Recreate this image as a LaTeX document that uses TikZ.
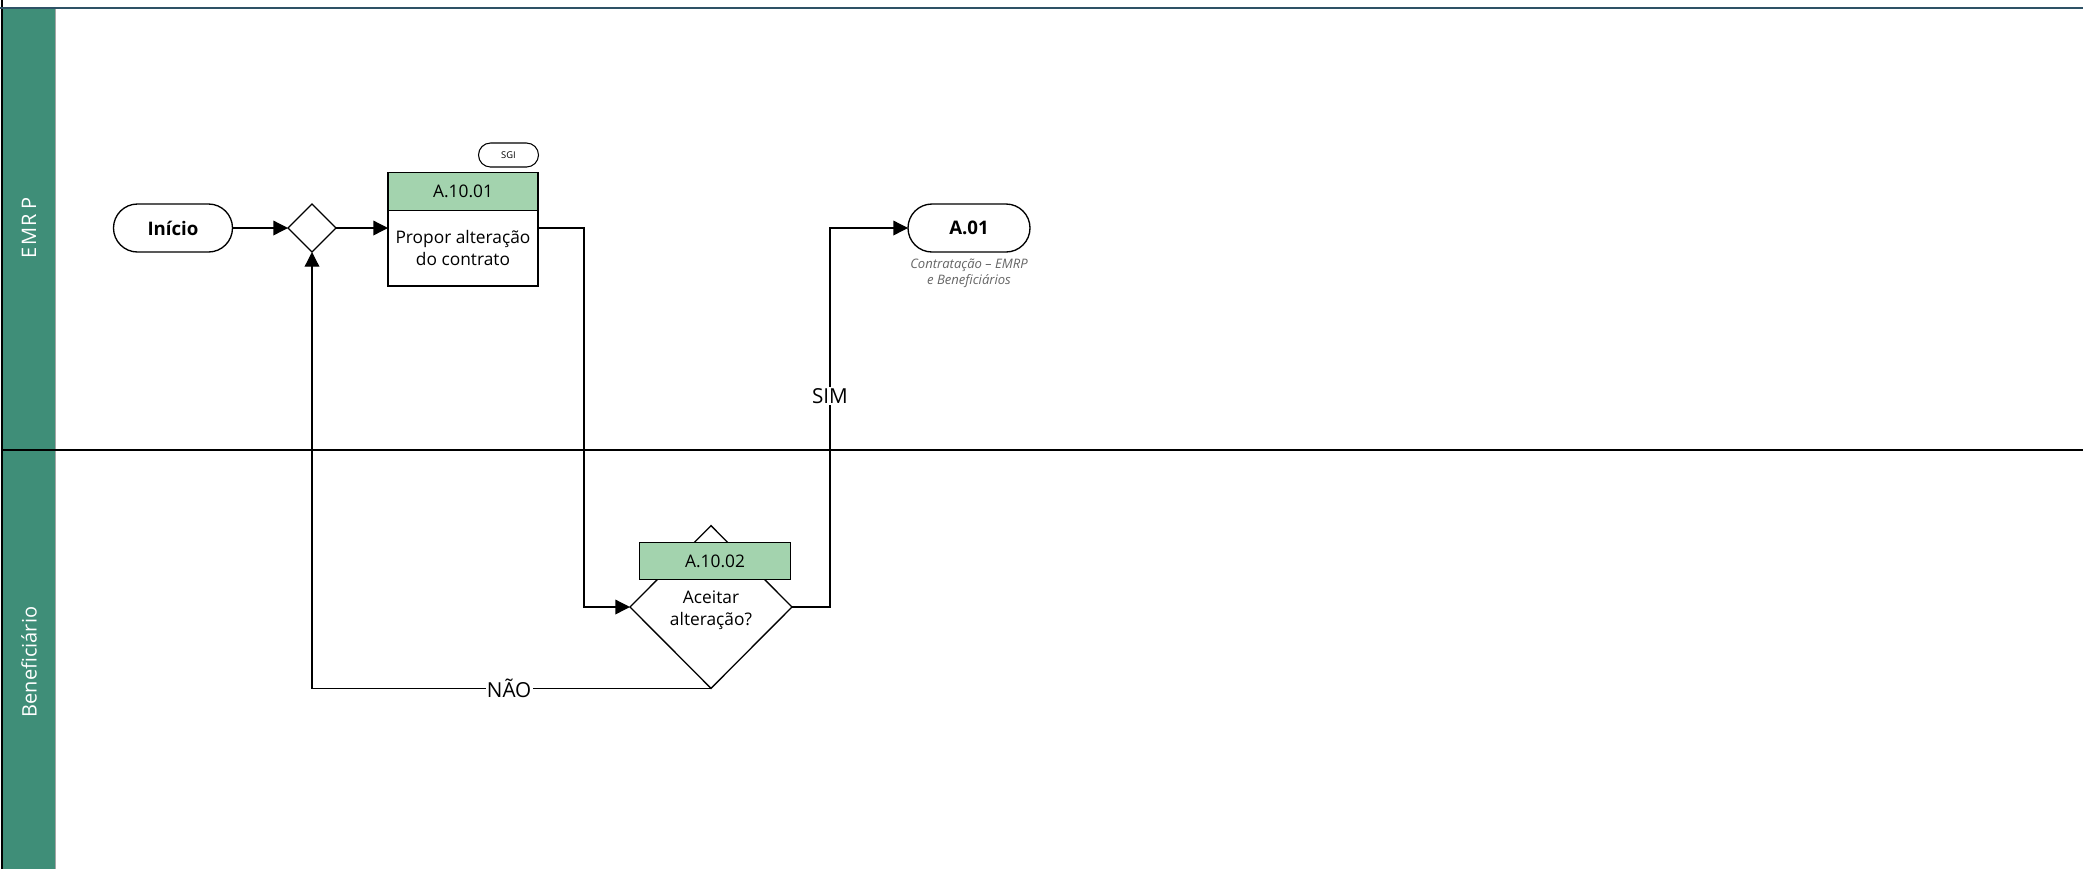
\documentclass[tikz,border=0pt]{standalone}
\usepackage{fontspec}
\setmainfont{Open Sans}
\usetikzlibrary{shapes.geometric,arrows.meta}
\definecolor{lanegreen}{HTML}{3F8E78}
\definecolor{hdrgreen}{HTML}{A3D3AE}
\definecolor{topline}{HTML}{2E5266}
\definecolor{capgray}{HTML}{666666}
\tikzset{
  base/.style={inner sep=0pt, outer sep=0pt, align=center, font=\fontsize{13}{16.5}\selectfont},
  terminal/.style={base, draw, line width=1pt, rounded corners=18pt, minimum width=#1, minimum height=36pt, font=\fontsize{14}{16}\selectfont\bfseries},
  gateway/.style={base, draw, line width=1pt, diamond, minimum width=36pt, minimum height=36pt},
  decision/.style={base, draw, line width=1pt, diamond, minimum width=121.5pt, minimum height=122pt},
  taskbox/.style={base, draw, line width=1pt, minimum width=112.5pt, minimum height=84.75pt},
  hdr/.style={base, draw, line width=1pt, fill=hdrgreen, minimum width=#1, minimum height=28.2pt},
  txt/.style={base},
  pill/.style={base, draw, line width=0.8pt, rounded corners=9pt, minimum width=45pt, minimum height=18pt, font=\fontsize{7}{8}\selectfont},
  caption/.style={base, text=capgray, font=\fontsize{9.8}{12}\selectfont\itshape},
  lanelabel/.style={base, text=white, rotate=90, font=\fontsize{15}{18}\selectfont},
  flow/.style={draw, line width=1pt, -{Triangle[length=11pt,width=11pt]}},
  lbl/.style={base, fill=white, inner sep=1pt, font=\fontsize{15.5}{18}\selectfont}
}
\begin{document}
\begin{tikzpicture}[x=0.75pt,y=-0.75pt]
\useasboundingbox (0,0) rectangle (2083,869);
\fill[white] (0,0) rectangle (2083,869);
% pool and lanes
\fill[lanegreen] (3,8) rectangle (56,869);
\draw[gray!70, line width=1pt] (55.5,8) -- (55.5,869);
\draw[line width=1.2pt] (2,0) -- (2,869);
\draw[line width=1.2pt] (3,450) -- (2083,450);
\draw[topline, line width=2.2pt] (0,8) -- (2083,8);
\node[lanelabel] (lane1) at (29,228) {E\kern1ptM\kern1ptR\kern3ptP};
\node[lanelabel] (lane2) at (29,662) {Beneficiário};
% nodes
\node[terminal=89.25pt] (inicio) at (173,228) {Início};
\node[gateway] (gw) at (312,228) {};
\node[taskbox] (t1) at (463,229.5) {};
\node[hdr=112.5pt] (t1h) at (463,191.5) {A.10.01};
\node[txt] (t1txt) at (463,248) {Propor alteração\\do contrato};
\node[pill] (sgi) at (508.5,155) {SGI};
\node[decision] (dec) at (711,607) {};
\node[hdr=113.5pt] (dech) at (715,561) {A.10.02};
\node[txt] (dectxt) at (711,610) {Aceitar\\alteração?};
\node[terminal=91.5pt] (a01) at (969,228) {A.01};
\node[caption] (a01cap) at (969,273) {Contratação – EMRP\\e Beneficiários};
% elbow coordinates
\coordinate (k1) at (584,0);
\coordinate (k2) at (830,0);
% connectors
\draw[flow] (inicio.east) -- (gw.west);
\draw[flow] (gw.east) -- (t1.west |- gw.east);
\draw[flow] (t1.east |- gw.east) -- (k1 |- gw.east) |- (dec.west);
\draw[flow] (dec.east) -- (dec.east -| k2) -- node[lbl, pos=0.557] (sim) {SIM} (k2 |- a01.west) -- (a01.west);
\draw[flow] (dec.south) -- node[lbl, pos=0.506] (nao) {NÃO} (dec.south -| gw.south) -- (gw.south);
\end{tikzpicture}
\end{document}
